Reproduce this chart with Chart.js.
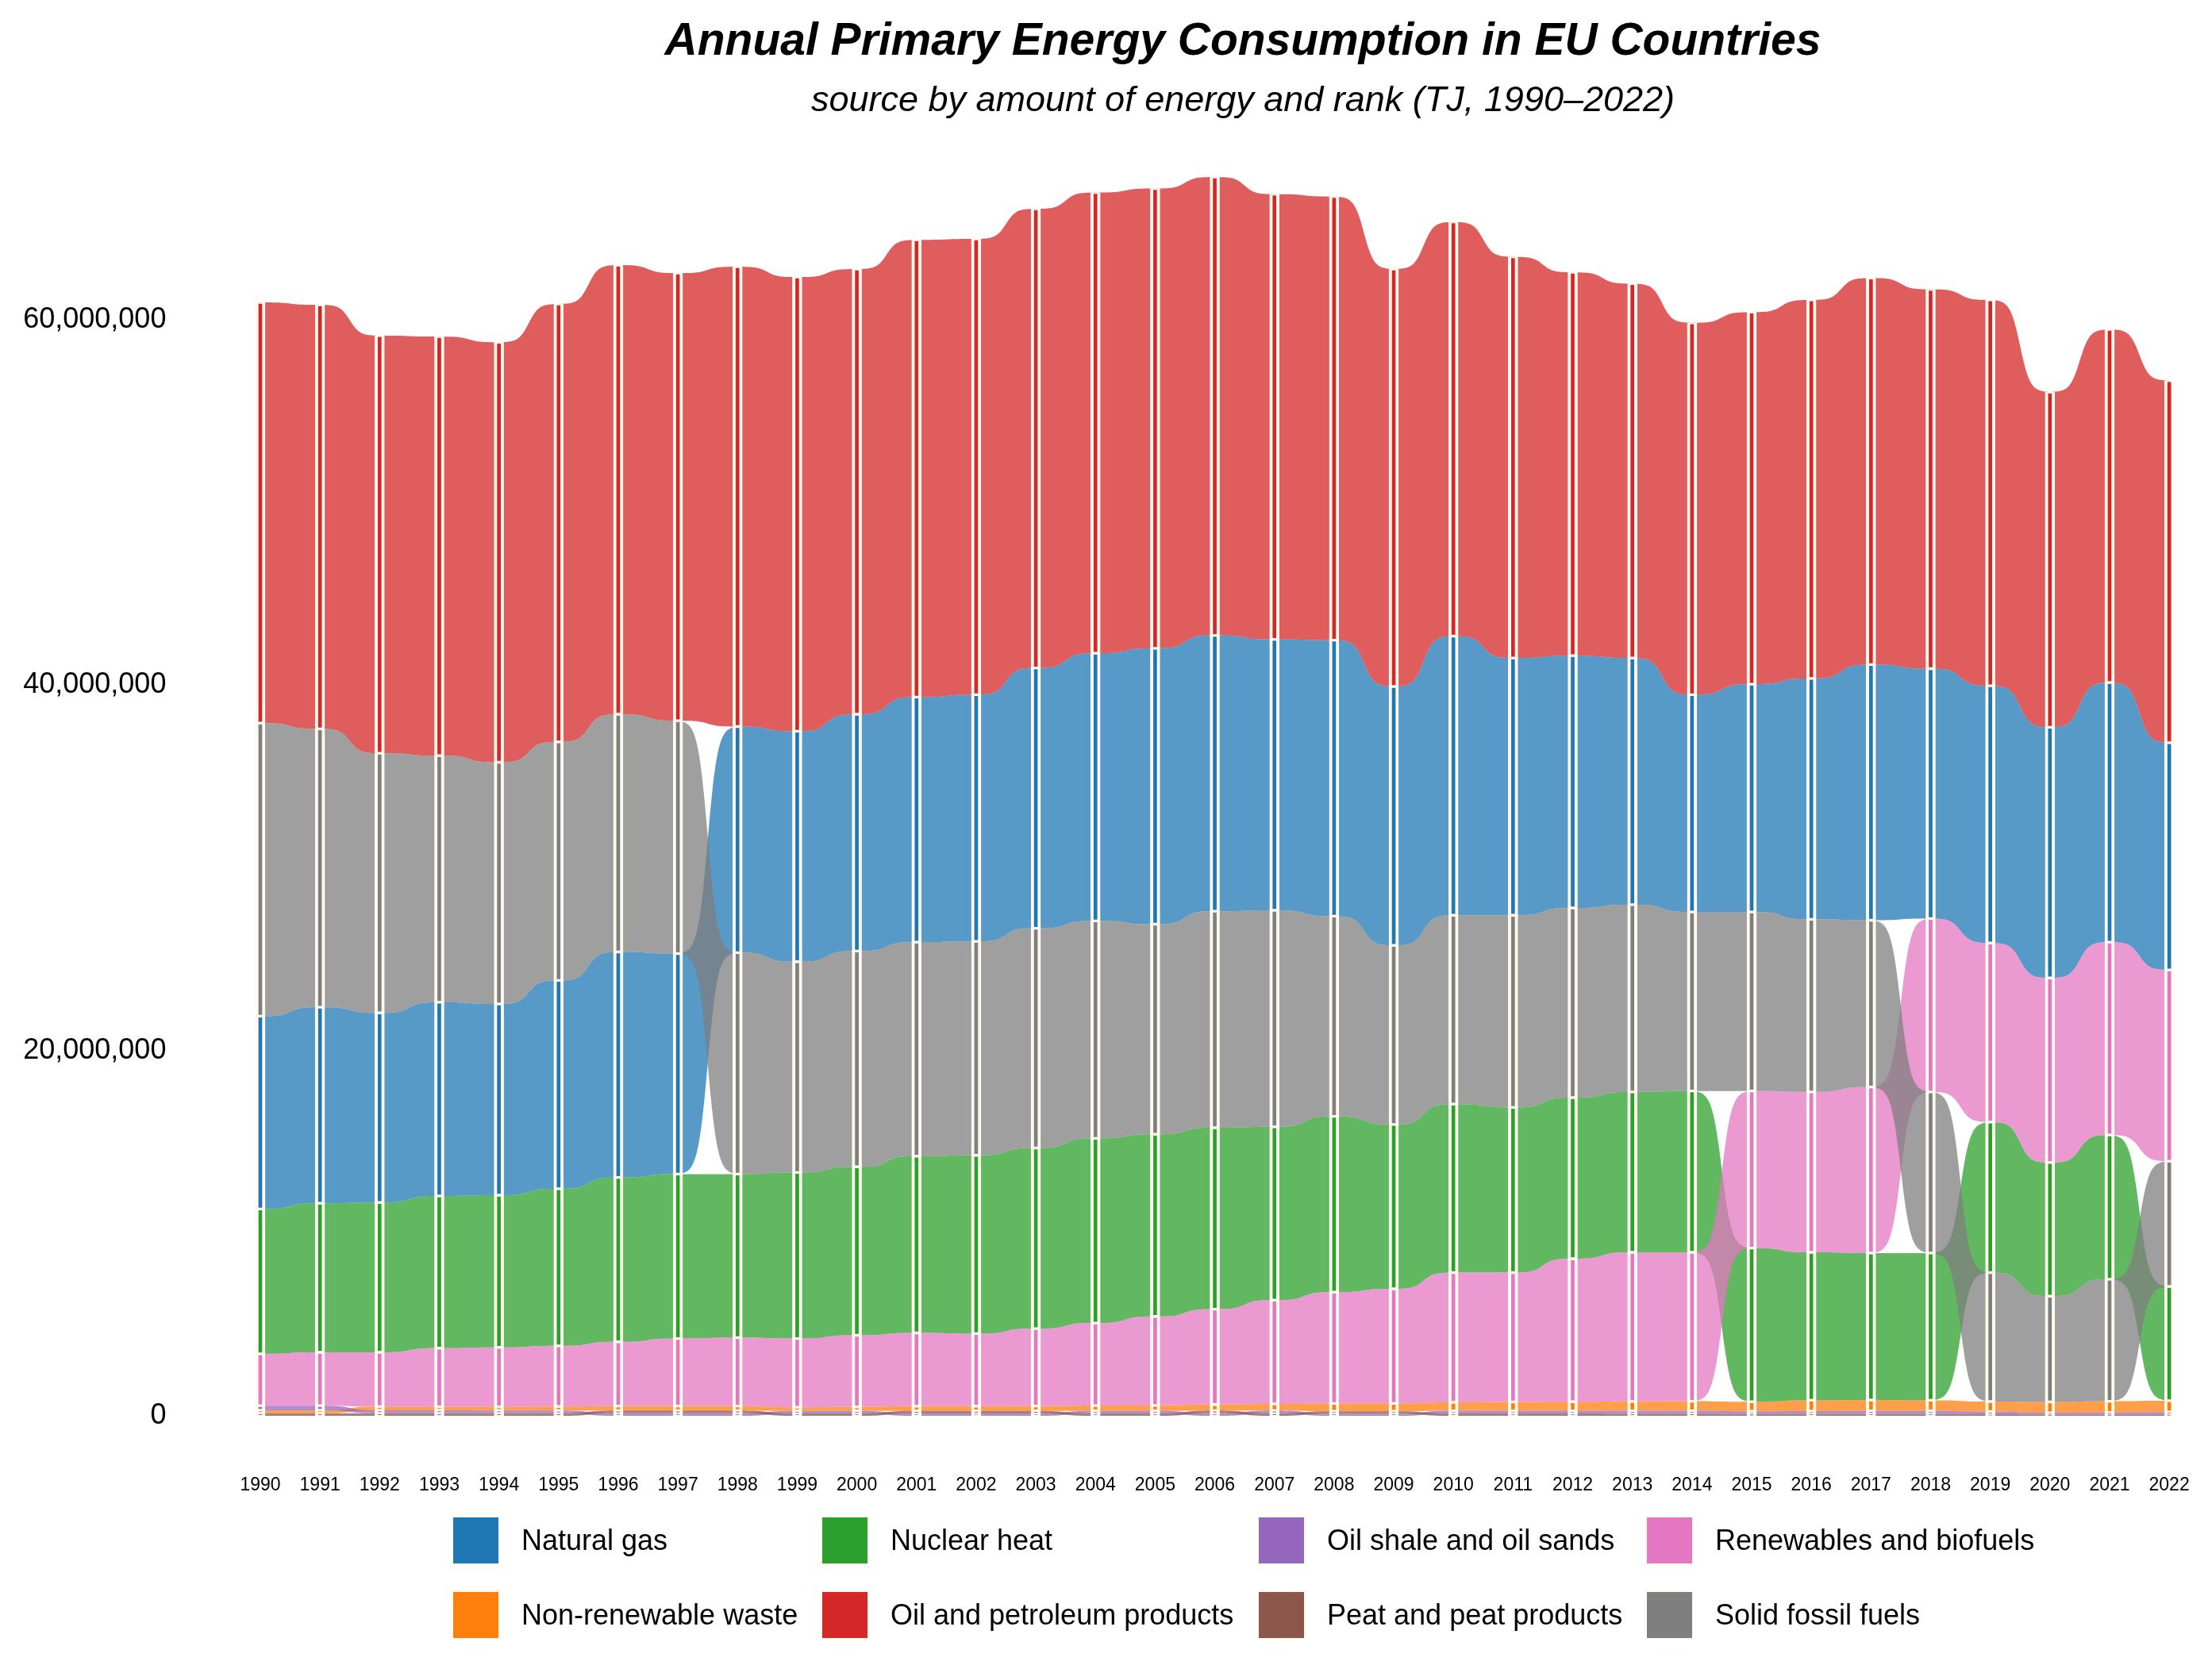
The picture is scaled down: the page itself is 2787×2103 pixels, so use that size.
<!DOCTYPE html>
<html>
<head>
<meta charset="utf-8">
<title>Annual Primary Energy Consumption in EU Countries</title>
<script src="https://cdn.jsdelivr.net/npm/chart.js@4.4.1/dist/chart.umd.min.js"></script>
<style>
  html, body { margin: 0; padding: 0; background: #fff; }
  #wrap { position: relative; width: 2787px; height: 2103px; font-family: 'Liberation Sans', Arial, Helvetica, sans-serif; color: #000; }
  #chart { position: absolute; left: 0; top: 0; }
  .head { position: absolute; left: 1566px; transform: translateX(-50%); white-space: nowrap; line-height: 1; font-style: italic; }
  #title { top: 21px; font-size: 57px; font-weight: bold; }
  #subtitle { top: 102px; font-size: 45px; }
  #legend { position: absolute; left: 569px; top: 1910px; display: grid; grid-auto-flow: column;
            grid-template-rows: 94px 94px; grid-template-columns: 465px 550px 489px auto; }
  .item { display: flex; align-items: flex-start; }
  .key { width: 61px; height: 62px; box-sizing: border-box; border: 2px solid #FFFAF0; }
  .lab { margin-left: 27px; font-size: 36px; line-height: 62px; white-space: nowrap; }
</style>
</head>
<body>
<div id="wrap">
  <canvas id="chart" width="2787" height="2103"></canvas>
  <div id="title" class="head">Annual Primary Energy Consumption in EU Countries</div>
  <div id="subtitle" class="head">source by amount of energy and rank (TJ, 1990–2022)</div>
  <div id="legend"></div>
</div>
<script>
// 年份（x 軸）
const years = [1990, 1991, 1992, 1993, 1994, 1995, 1996, 1997, 1998, 1999, 2000,
  2001, 2002, 2003, 2004, 2005, 2006, 2007, 2008, 2009, 2010,
  2011, 2012, 2013, 2014, 2015, 2016, 2017, 2018, 2019, 2020, 2021, 2022];

// 各能源（TJ），依名稱字母序，也是繪圖疊放順序
const naturalGas = [10550000, 10730000, 10380000, 10600000, 10470000, 11400000, 12340000, 12070000, 12380000, 12610000, 12960000,
  13410000, 13500000, 14250000, 14650000, 15100000, 15100000, 14830000, 15110000, 14170000, 15280000,
  14080000, 13810000, 13500000, 11890000, 12470000, 13180000, 13990000, 13680000, 14080000, 13720000, 14210000, 12430000];
const nonRenewableWaste = [160000, 160000, 200000, 190000, 200000, 220000, 250000, 250000, 250000, 200000, 220000,
  260000, 260000, 270000, 290000, 300000, 330000, 360000, 430000, 430000, 460000,
  480000, 490000, 510000, 520000, 520000, 590000, 590000, 580000, 550000, 590000, 620000, 620000];
const nuclearHeat = [7930000, 8160000, 8200000, 8330000, 8330000, 8600000, 9000000, 9000000, 8950000, 9090000, 9220000,
  9670000, 9760000, 9890000, 10110000, 9970000, 9930000, 9490000, 9620000, 9000000, 9220000,
  9040000, 8820000, 8780000, 8830000, 8410000, 8100000, 8050000, 8060000, 8240000, 7310000, 7890000, 6250000];
const oilPetroleum = [23030000, 23210000, 22860000, 22940000, 22990000, 23970000, 24590000, 24500000, 25170000, 24860000, 24370000,
  25030000, 24950000, 25130000, 25220000, 25170000, 25090000, 24370000, 24280000, 22850000, 22670000,
  21960000, 20980000, 20490000, 20360000, 20360000, 20720000, 21160000, 20760000, 21120000, 18350000, 19330000, 19830000];
const oilShale = [250000, 250000, 160000, 160000, 150000, 150000, 140000, 140000, 140000, 140000, 140000,
  130000, 130000, 130000, 140000, 140000, 140000, 150000, 120000, 120000, 150000,
  150000, 150000, 160000, 160000, 150000, 150000, 160000, 160000, 140000, 100000, 110000, 130000];
const peat = [145000, 145000, 145000, 145000, 145000, 140000, 150000, 150000, 150000, 130000, 130000,
  140000, 140000, 140000, 130000, 130000, 150000, 140000, 130000, 130000, 130000,
  130000, 130000, 120000, 120000, 100000, 110000, 110000, 110000, 90000, 70000, 70000, 80000];
const renewables = [2840000, 2920000, 2970000, 3210000, 3250000, 3320000, 3510000, 3690000, 3740000, 3760000, 3920000,
  4010000, 3970000, 4230000, 4520000, 4870000, 5220000, 5680000, 6090000, 6270000, 7100000,
  7080000, 7830000, 8160000, 8150000, 8600000, 8780000, 9090000, 9490000, 9800000, 10110000, 10560000, 10470000];
const solidFossil = [16040000, 15240000, 14210000, 13500000, 13230000, 13060000, 13010000, 12750000, 12120000, 11540000, 11810000,
  11720000, 11710000, 12030000, 11900000, 11500000, 11850000, 11850000, 10960000, 9800000, 10340000,
  10520000, 10380000, 10250000, 9800000, 9800000, 9450000, 9130000, 8820000, 7060000, 5790000, 6680000, 6860000];

const sourceNames = ['Natural gas', 'Non-renewable waste', 'Nuclear heat', 'Oil and petroleum products',
  'Oil shale and oil sands', 'Peat and peat products', 'Renewables and biofuels', 'Solid fossil fuels'];
const sourceValues = [naturalGas, nonRenewableWaste, nuclearHeat, oilPetroleum, oilShale, peat, renewables, solidFossil];
const sourceColors = ['#1f77b4', '#ff7f0e', '#2ca02c', '#d62728', '#9467bd', '#8c564b', '#e377c2', '#7f7f7f'];

// y 軸刻度
const yTicks = [0, 20000000, 40000000, 60000000];

const CREAM = '#FFFAF0';
const RIBBON_ALPHA = 0.75;
const SMOOTH = 6;

function withAlpha(hex, a) {
  const n = parseInt(hex.slice(1), 16);
  return `rgba(${(n >> 16) & 255},${(n >> 8) & 255},${n & 255},${a})`;
}

// 每年依大小排名堆疊：最小的在底部 → [lo, hi]
const stacks = sourceValues.map(() => []);
years.forEach((_, i) => {
  const order = sourceValues.map((v, s) => s).sort((a, b) => sourceValues[a][i] - sourceValues[b][i]);
  let base = 0;
  order.forEach((s) => {
    const v = sourceValues[s][i];
    stacks[s][i] = [base, base + v];
    base += v;
  });
});

// S 形過渡
const L = (t) => 1 / (1 + Math.exp(-SMOOTH * (2 * t - 1)));
const sig = (t) => (L(t) - L(0)) / (L(1) - L(0));

// 年與年之間的半透明彩帶
const ribbonPlugin = {
  id: 'ribbons',
  beforeDatasetsDraw(chart) {
    const { ctx, scales: { x, y } } = chart;
    const N = 48;
    ctx.save();
    chart.data.datasets.forEach((ds) => {
      ctx.fillStyle = ds.ribbonColor;
      for (let i = 0; i < ds.data.length - 1; i++) {
        const [lo0, hi0] = ds.data[i];
        const [lo1, hi1] = ds.data[i + 1];
        const x0 = x.getPixelForValue(i);
        const x1 = x.getPixelForValue(i + 1);
        ctx.beginPath();
        for (let k = 0; k <= N; k++) {
          const t = k / N, s = sig(t);
          ctx.lineTo(x0 + (x1 - x0) * t, y.getPixelForValue(hi0 + (hi1 - hi0) * s));
        }
        for (let k = N; k >= 0; k--) {
          const t = k / N, s = sig(t);
          ctx.lineTo(x0 + (x1 - x0) * t, y.getPixelForValue(lo0 + (lo1 - lo0) * s));
        }
        ctx.closePath();
        ctx.fill();
      }
    });
    ctx.restore();
  },
};

const datasets = sourceNames.map((name, s) => ({
  label: name,
  data: stacks[s],
  backgroundColor: sourceColors[s],
  ribbonColor: withAlpha(sourceColors[s], RIBBON_ALPHA),
  borderColor: CREAM,
  borderWidth: { top: 2, bottom: 2, left: 4, right: 4 },
  borderSkipped: false,
  barThickness: 12,
  grouped: false,
}));

new Chart(document.getElementById('chart'), {
  type: 'bar',
  data: { labels: years.map(String), datasets },
  plugins: [ribbonPlugin],
  options: {
    responsive: false,
    animation: false,
    devicePixelRatio: 1,
    layout: { padding: { top: 172.6, right: 16.3, bottom: 0, left: 0 } },
    plugins: { legend: { display: false }, tooltip: { enabled: false }, title: { display: false } },
    scales: {
      x: {
        type: 'category',
        offset: true,
        // 刻度線不畫，只借 tickLength 把年份標籤往下推
        grid: { display: false, drawTicks: true, tickLength: 74 },
        border: { display: false },
        afterFit: (s) => { s.height = 319; },
        ticks: {
          color: '#000',
          font: { family: "'Liberation Sans', Arial, sans-serif", size: 23 },
          padding: 0,
          autoSkip: false,
          maxRotation: 0,
        },
      },
      y: {
        min: 0,
        max: 70000000,
        grid: { display: false },
        border: { display: false },
        afterFit: (s) => { s.width = 290.4; },
        afterBuildTicks: (s) => { s.ticks = yTicks.map((v) => ({ value: v })); },
        ticks: {
          color: '#000',
          font: { family: "'Liberation Sans', Arial, sans-serif", size: 36 },
          padding: 73,
          callback: (v) => Number(v).toLocaleString('en-US'),
        },
      },
    },
  },
});

// 圖例（兩列、依字母序按欄排列）
const legend = document.getElementById('legend');
sourceNames.forEach((name, s) => {
  const item = document.createElement('div');
  item.className = 'item';
  item.innerHTML = `<div class="key" style="background:${sourceColors[s]}"></div><div class="lab">${name}</div>`;
  legend.appendChild(item);
});
</script>
</body>
</html>
